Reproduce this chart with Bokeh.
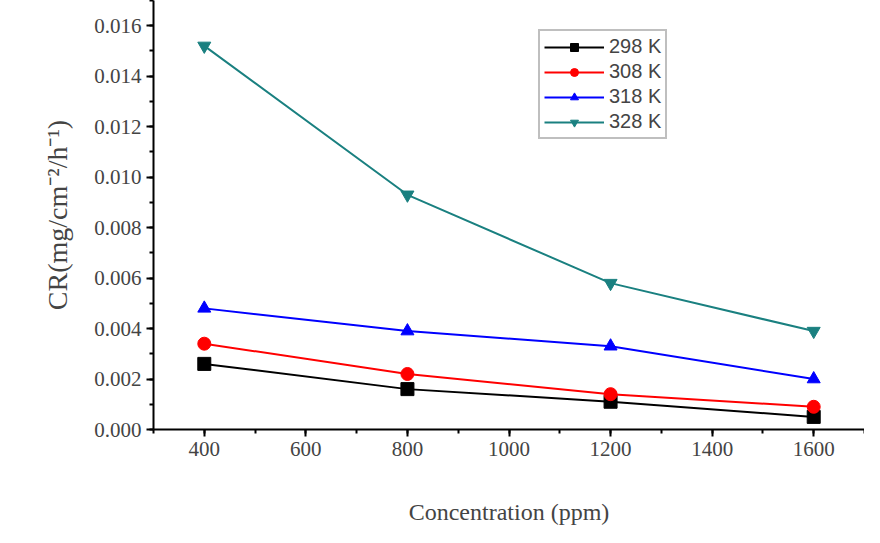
from bokeh.plotting import figure
from bokeh.embed import file_html
from bokeh.resources import INLINE
from bokeh.models import Range1d, Legend, LegendItem, SingleIntervalTicker, PrintfTickFormatter

conc = [400, 800, 1200, 1600]
labels = ["298 K", "308 K", "318 K", "328 K"]
s298 = [0.0026, 0.0016, 0.0011, 0.0005]
s308 = [0.0034, 0.0022, 0.0014, 0.0009]
s318 = [0.0048, 0.0039, 0.0033, 0.0020]
s328 = [0.0152, 0.0093, 0.0058, 0.0039]
colors = ["black", "red", "blue", "#1a8080"]
markers = ["square", "circle", "triangle", "inverted_triangle"]

p = figure(width=864, height=527, output_backend="svg", toolbar_location=None,
           x_range=Range1d(300, 1700), y_range=Range1d(0, 0.017),
           min_border_left=153, min_border_right=0, min_border_top=0, min_border_bottom=95)
p.outline_line_color = None
p.grid.visible = False

items = []
for lab, ys, c, m in zip(labels, [s298, s308, s318, s328], colors, markers):
    r1 = p.line(conc, ys, line_color=c, line_width=2)
    r2 = p.scatter(conc, ys, marker=m, size=13, color=c)
    items.append(LegendItem(label=lab, renderers=[r1, r2]))

leg = Legend(items=items, location=(385, 290), label_text_font="Liberation Sans",
             label_text_font_size="20px", border_line_color="gray", border_line_width=2,
             glyph_width=60, spacing=2, padding=4, label_height=20, glyph_height=20,
             background_fill_alpha=1)
p.add_layout(leg, "center")

for ax in (p.xaxis, p.yaxis):
    ax.axis_line_width = 2
    ax.major_tick_line_width = 2
    ax.minor_tick_line_width = 2
    ax.major_tick_in = 0
    ax.major_tick_out = 7
    ax.minor_tick_in = 0
    ax.minor_tick_out = 4
    ax.major_label_text_font = "Liberation Serif"
    ax.major_label_text_font_size = "21px"
    ax.axis_label_text_font = "Liberation Serif"
    ax.axis_label_text_font_style = "normal"
p.xaxis.ticker = SingleIntervalTicker(interval=200, num_minor_ticks=2)
p.yaxis.ticker = SingleIntervalTicker(interval=0.002, num_minor_ticks=2)
p.yaxis.formatter = PrintfTickFormatter(format="%.3f")
p.xaxis.axis_label = "Concentration (ppm)"
p.xaxis.axis_label_text_font_size = "24px"
p.xaxis.axis_label_standoff = 40
p.yaxis.axis_label = "CR(mg/cm⁻²/h⁻¹)"
p.yaxis.axis_label_text_font_size = "28px"
p.yaxis.axis_label_standoff = 18

open("out.html", "w").write(file_html(p, INLINE))
